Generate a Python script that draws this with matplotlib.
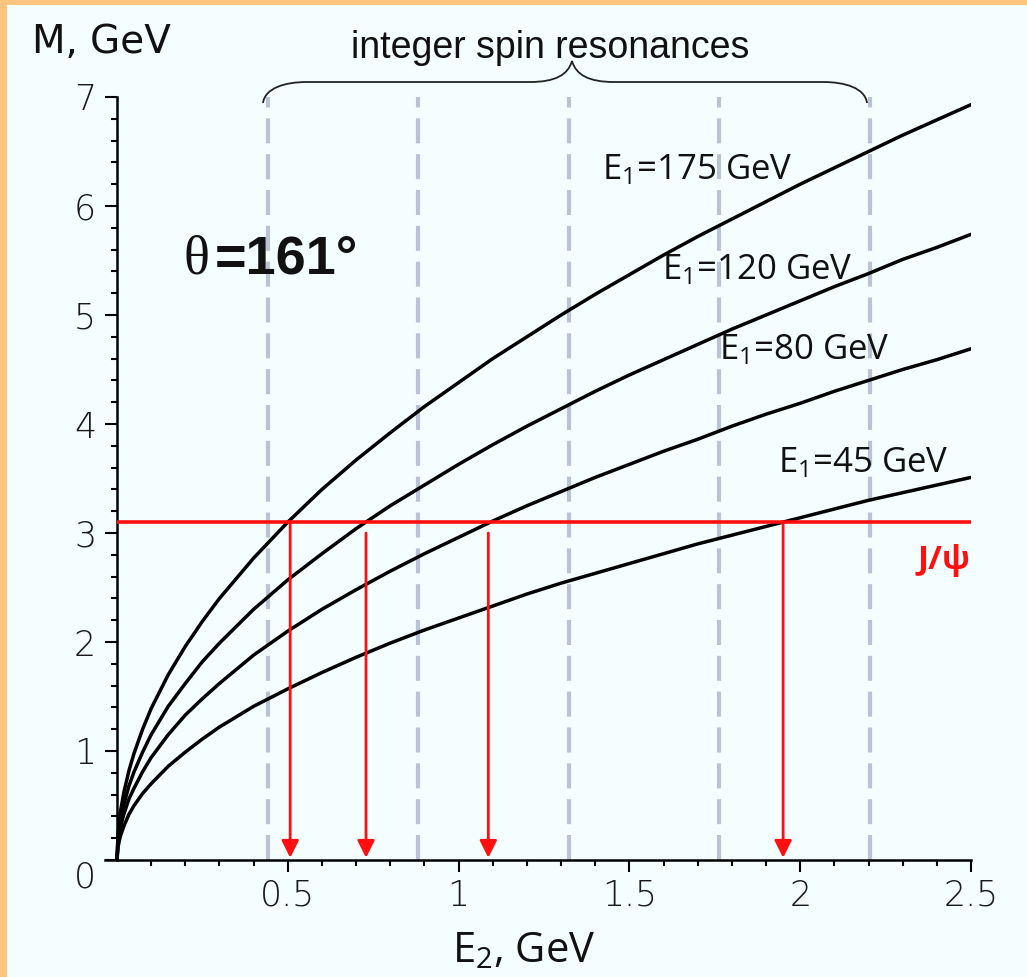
import matplotlib
matplotlib.use("Agg")
import matplotlib.pyplot as plt
from matplotlib.path import Path
from matplotlib.patches import PathPatch, Rectangle, FancyArrowPatch
from matplotlib.ticker import MultipleLocator, FixedLocator

# ---------------- data ----------------
e2 = [0, 0.003, 0.01, 0.02, 0.035, 0.05, 0.075, 0.1, 0.15, 0.2, 0.25, 0.3,
      0.4, 0.5, 0.6, 0.7, 0.8, 0.9, 1.0, 1.1, 1.2, 1.3, 1.4, 1.5, 1.6, 1.7,
      1.8, 1.9, 2.0, 2.1, 2.2, 2.3, 2.4, 2.5]
m_175 = [0, 0.24, 0.44, 0.62, 0.82, 0.98, 1.20, 1.39, 1.70, 1.96, 2.19, 2.40,
         2.77, 3.10, 3.40, 3.67, 3.92, 4.16, 4.38, 4.60, 4.80, 5.00, 5.19, 5.37,
         5.55, 5.72, 5.88, 6.04, 6.20, 6.35, 6.50, 6.65, 6.79, 6.93]
m_120 = [0, 0.20, 0.36, 0.51, 0.68, 0.81, 0.99, 1.15, 1.41, 1.62, 1.82, 1.99,
         2.30, 2.57, 2.81, 3.04, 3.25, 3.44, 3.63, 3.81, 3.98, 4.14, 4.30, 4.45,
         4.59, 4.73, 4.87, 5.00, 5.13, 5.26, 5.38, 5.51, 5.62, 5.74]
m_80 = [0, 0.16, 0.30, 0.42, 0.56, 0.66, 0.81, 0.94, 1.15, 1.33, 1.48, 1.62,
        1.88, 2.10, 2.30, 2.48, 2.65, 2.81, 2.96, 3.11, 3.25, 3.38, 3.51, 3.63,
        3.75, 3.86, 3.98, 4.09, 4.19, 4.30, 4.40, 4.50, 4.59, 4.69]
m_45 = [0, 0.12, 0.22, 0.31, 0.42, 0.50, 0.61, 0.70, 0.86, 0.99, 1.11, 1.22,
        1.41, 1.57, 1.72, 1.86, 1.99, 2.11, 2.22, 2.33, 2.44, 2.54, 2.63, 2.72,
        2.81, 2.90, 2.98, 3.06, 3.14, 3.22, 3.30, 3.37, 3.44, 3.51]
curve_labels = ["175", "120", "80", "45"]
label_pos = [(1.421, 6.33), (1.596, 5.41), (1.763, 4.68), (1.936, 3.64)]

resonances = [0.4407, 0.8813, 1.3220, 1.7626, 2.2033]
jpsi_mass = 3.1
arrow_x = [0.507, 0.729, 1.087, 1.950]
arrow_top = [3.1, 3.0, 3.0, 3.1]

x_ticks = [0.5, 1, 1.5, 2, 2.5]
x_tick_labels = ["0.5", "1", "1.5", "2", "2.5"]
y_ticks = [0, 1, 2, 3, 4, 5, 6, 7]
y_tick_labels = ["", "1", "2", "3", "4", "5", "6", "7"]

# ---------------- figure ----------------
W, H = 1027, 977
plt.rcParams['mathtext.fontset'] = 'custom'
plt.rcParams['mathtext.rm'] = 'Open Sans'
plt.rcParams['mathtext.it'] = 'Open Sans:italic'
plt.rcParams['mathtext.bf'] = 'Open Sans:bold'

fig = plt.figure(figsize=(W / 100, H / 100), dpi=100)
fig.patch.set_facecolor('#fcc47e')
# light interior
fig.patches.append(Rectangle((7 / W, 0), 1, 1 - 5 / H, transform=fig.transFigure,
                             facecolor='#f4fefe', edgecolor='none', zorder=-10))

def fx(px):
    return px / W

def fy(py):
    return 1 - py / H

x_left_px, x0_px, x1_px = 105, 117, 971
y0_px, y7_px = 860, 97
xmin = -(x0_px - x_left_px) / ((x1_px - x0_px) / 2.5)
ax = fig.add_axes([fx(x_left_px), fy(y0_px), (x1_px - x_left_px) / W, (y0_px - y7_px) / H])
ax.set_zorder(1)
ax.set_facecolor('none')
ax.set_xlim(xmin, 2.5)
ax.set_ylim(0, 7)
for s in ['top', 'right']:
    ax.spines[s].set_visible(False)
ax.spines['left'].set_position(('data', 0))
ax.spines['left'].set_linewidth(1.8)
ax.spines['bottom'].set_linewidth(1.8)

ax.xaxis.set_major_locator(FixedLocator(x_ticks))
ax.set_xticklabels(x_tick_labels)
ax.xaxis.set_minor_locator(FixedLocator([i / 10 for i in range(1, 26) if i % 5 != 0]))
ax.yaxis.set_major_locator(FixedLocator(y_ticks))
ax.set_yticklabels(y_tick_labels)
ax.yaxis.set_minor_locator(MultipleLocator(0.2))
ax.tick_params(which='major', direction='out', length=8.6, width=1.5, colors='black',
               labelsize=25, labelcolor='#1a1a1a')
ax.tick_params(which='minor', direction='out', length=4.3, width=1.5, colors='black')
ax.tick_params(axis='y', which='major', pad=6.5)
ax.tick_params(axis='x', which='major', pad=5)
for lab in ax.get_xticklabels() + ax.get_yticklabels():
    lab.set_fontfamily('DejaVu Sans')
    lab.set_fontweight('light')

# dashed resonance lines
for xr in resonances:
    ax.plot([xr, xr], [0, 7], color='#bac2d6', lw=3.0, dashes=(6.0, 2.6), zorder=1,
            solid_capstyle='butt', dash_capstyle='butt')

# curves
for ys in [m_175, m_120, m_80, m_45]:
    ax.plot(e2, ys, color='black', lw=2.5, zorder=3)

# J/psi line
ax.plot([0, 2.5], [jpsi_mass, jpsi_mass], color='#ff1010', lw=2.6, zorder=4,
        solid_capstyle='butt')

# arrows
for xa, ya in zip(arrow_x, arrow_top):
    arr = FancyArrowPatch((xa, ya), (xa, 0.02), arrowstyle='-|>', mutation_scale=26,
                          color='#ff1010', lw=2.0, zorder=4, shrinkA=0, shrinkB=0)
    ax.add_patch(arr)

# curve labels
for lab, (lx, ly) in zip(curve_labels, label_pos):
    ax.text(lx, ly, r"E$_{\mathrm{1}}$=" + lab + " GeV", fontfamily='Open Sans',
            fontsize=25, ha='left', va='center', color='#111111', zorder=5)

ax.text(2.42, 2.75, "J/\u03c8", fontfamily='Open Sans', fontweight='bold', fontsize=24,
        color='#ff1010', ha='center', va='center')

# "0" at the origin corner
fig.text(fx(85), fy(878), "0", fontfamily='DejaVu Sans', fontweight='light', fontsize=25,
         color='#1a1a1a', ha='center', va='center')

# theta label
fig.text(fx(184), fy(273), "\u03b8", fontfamily='Liberation Serif', fontsize=39,
         color='#111111', ha='left', va='baseline')
fig.text(fx(215), fy(273), "=161\u00b0", fontfamily='Liberation Sans', fontweight='bold',
         fontsize=39, color='#111111', ha='left', va='baseline')

# axis titles
fig.text(fx(32), fy(53), "M, GeV", fontfamily='DejaVu Sans', fontsize=28,
         color='#111111', ha='left', va='baseline')
fig.text(fx(452), fy(962), r"E$_{\mathrm{2}}$, GeV", fontfamily='Open Sans', fontsize=30,
         color='#111111', ha='left', va='baseline')
fig.text(fx(550), fy(58), "integer spin resonances", fontfamily='Liberation Sans',
         fontsize=27, color='#111111', ha='center', va='baseline')

# brace
pts = [(263, 103), (265, 88), (285, 82), (307, 82),
       (530, 82),
       (555, 82), (568, 75), (572, 61),
       (576, 75), (589, 82), (614, 82),
       (823, 82),
       (845, 82), (865, 88), (867, 103)]
codes = [Path.MOVETO, Path.CURVE4, Path.CURVE4, Path.CURVE4,
         Path.LINETO,
         Path.CURVE4, Path.CURVE4, Path.CURVE4,
         Path.CURVE4, Path.CURVE4, Path.CURVE4,
         Path.LINETO,
         Path.CURVE4, Path.CURVE4, Path.CURVE4]
brace = Path([(fx(a), fy(b)) for a, b in pts], codes)
fig.patches.append(PathPatch(brace, transform=fig.transFigure, facecolor='none',
                             edgecolor='#222222', lw=1.3, zorder=5))

fig.savefig("out.png", dpi=100, facecolor=fig.get_facecolor())
